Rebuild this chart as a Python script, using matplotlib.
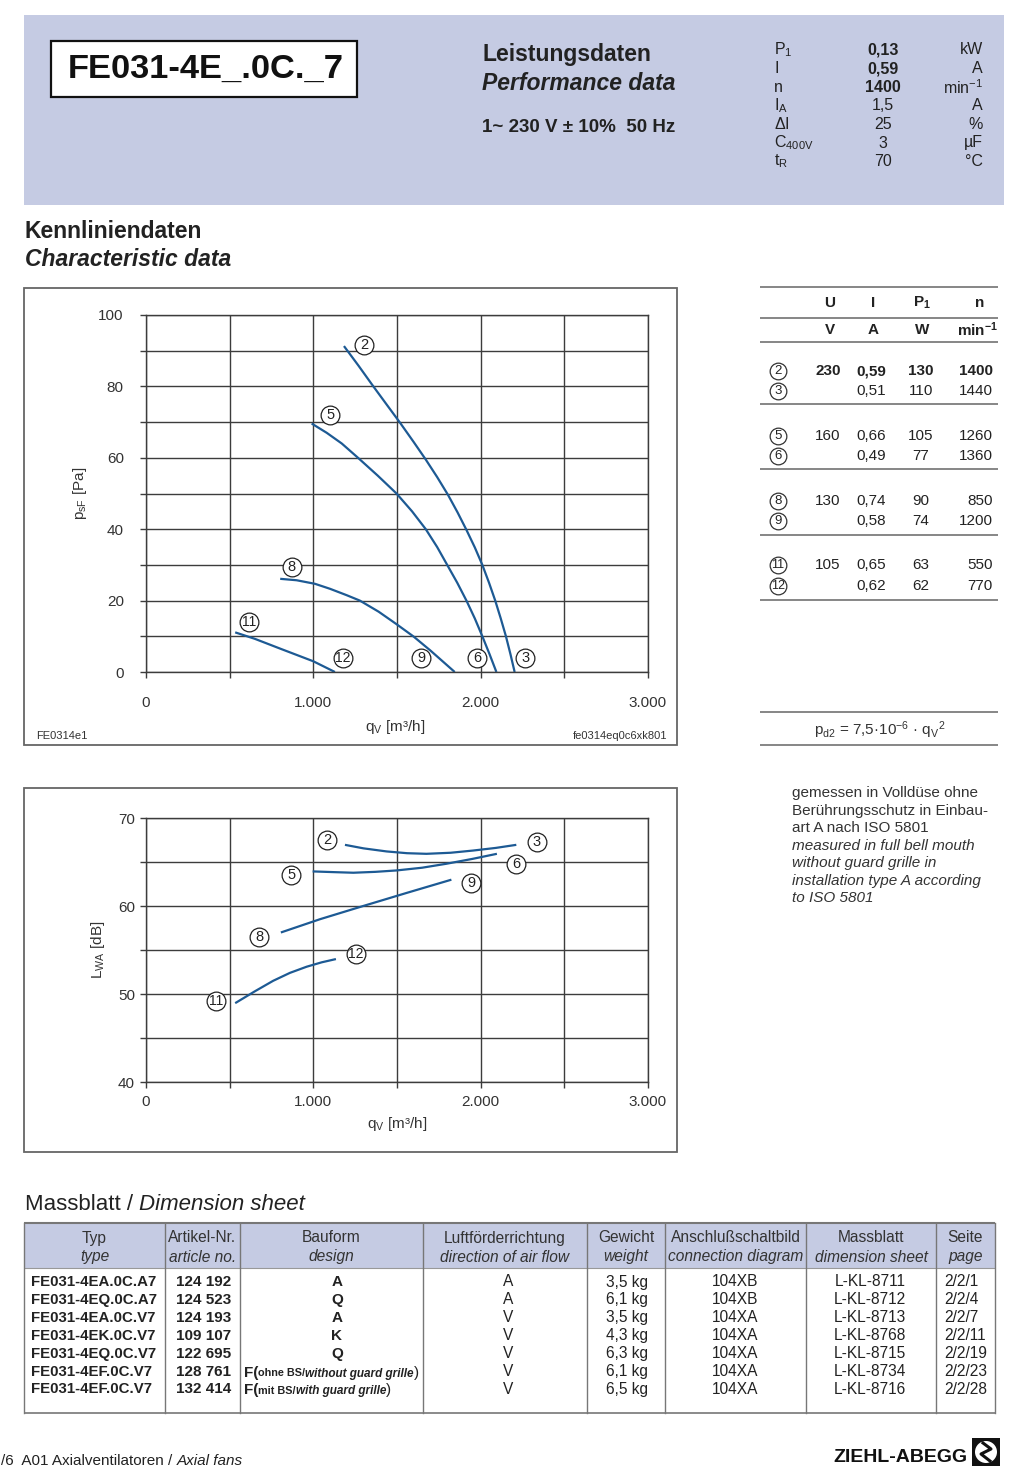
import matplotlib.pyplot as plt
from matplotlib.patches import Rectangle, Circle
from matplotlib import font_manager as fm
import numpy as np

names = {f.name for f in fm.fontManager.ttflist}
SANS = 'Liberation Sans'
NARROW = 'Liberation Sans Narrow' if 'Liberation Sans Narrow' in names else SANS
plt.rcParams['font.family'] = [SANS, 'DejaVu Sans']
plt.rcParams['mathtext.fontset'] = 'custom'
plt.rcParams['mathtext.rm'] = SANS
plt.rcParams['mathtext.it'] = SANS + ':italic'
plt.rcParams['mathtext.bf'] = SANS + ':bold'

# ---------------- data ----------------
model = 'FE031-4E_.0C._7'
perf_labels = [r'P$_\mathregular{1}$', 'I', 'n', r'I$_\mathregular{A}$', r'$\Delta$I',
               r'C$_\mathregular{400V}$', r't$_\mathregular{R}$']
perf_values = ['0,13', '0,59', '1400', '1,5', '25', '3', '70']
perf_bold = [True, True, True, False, False, False, False]
perf_units = ['kW', 'A', r'min$^\mathregular{-1}$', 'A', '%', 'µF', '°C']

op_ids = ['2', '3', '5', '6', '8', '9', '11', '12']
op_U = ['230', '', '160', '', '130', '', '105', '']
op_I = ['0,59', '0,51', '0,66', '0,49', '0,74', '0,58', '0,65', '0,62']
op_P = ['130', '110', '105', '77', '90', '74', '63', '62']
op_n = ['1400', '1440', '1260', '1360', '850', '1200', '550', '770']

# pressure curves psF [Pa] over qV [m3/h]
p23_q = [1183, 1270, 1354, 1440, 1517, 1600, 1672, 1740, 1805, 1862, 1915, 1965,
         2010, 2050, 2087, 2120, 2151, 2178, 2203]
p23_p = [91.3, 85.8, 80.3, 74.8, 69.9, 64.4, 59.5, 54.6, 49.6, 44.7, 39.8, 34.9,
         30, 25, 20, 15, 10, 5, 0]
p56_q = [990, 1080, 1170, 1267, 1385, 1497, 1590, 1672, 1740, 1800, 1860,
         1915, 1965, 2010, 2053, 2094]
p56_p = [69.6, 67.0, 64.0, 60, 55, 50, 45, 40, 35, 30, 25, 20, 15, 10, 5, 0]
p89_q = [802, 900, 1010, 1100, 1200, 1278, 1390, 1497, 1600, 1700, 1775, 1845]
p89_p = [26.1, 25.7, 24.7, 23.3, 21.5, 20.0, 16.9, 13.4, 9.9, 6.0, 2.9, 0]
p1112_q = [533, 650, 810, 1000, 1129]
p1112_p = [11.1, 9.3, 6.4, 3.0, 0]

# sound power LWA [dB] over qV [m3/h]
n23_q = [1189, 1300, 1438, 1560, 1676, 1820, 1954, 2090, 2213]
n23_l = [66.95, 66.55, 66.2, 66.0, 65.93, 66.05, 66.3, 66.6, 66.95]
n56_q = [996, 1120, 1239, 1370, 1497, 1650, 1795, 1950, 2097]
n56_l = [63.93, 63.85, 63.78, 63.88, 64.04, 64.35, 64.8, 65.35, 65.93]
n89_q = [806, 1040, 1298, 1560, 1825]
n89_l = [56.99, 58.5, 60.0, 61.5, 62.99]
n1112_q = [533, 650, 760, 860, 960, 1050, 1135]
n1112_l = [48.96, 50.3, 51.5, 52.4, 53.1, 53.6, 53.97]

# circled point labels (id, q, value)
p_marks = [('2', 1304, 91.6), ('5', 1100, 72.1), ('8', 872, 29.3), ('11', 616, 14.1),
           ('12', 1175, 3.8), ('9', 1645, 3.8), ('6', 1980, 3.8), ('3', 2266, 3.8)]
n_marks = [('2', 1084, 67.5), ('3', 2334, 67.3), ('6', 2213, 64.8), ('5', 867, 63.55),
           ('9', 1945, 62.65), ('8', 678, 56.5), ('12', 1254, 54.6), ('11', 418, 49.2)]

x_ticks = [0, 1000, 2000, 3000]
x_ticklabels = ['0', '1.000', '2.000', '3.000']

tab_types = ['FE031-4EA.0C.A7', 'FE031-4EQ.0C.A7', 'FE031-4EA.0C.V7', 'FE031-4EK.0C.V7',
             'FE031-4EQ.0C.V7', 'FE031-4EF.0C.V7', 'FE031-4EF.0C.V7']
tab_art = ['124 192', '124 523', '124 193', '109 107', '122 695', '128 761', '132 414']
tab_bau = ['A', 'Q', 'A', 'K', 'Q', 'F', 'F']
tab_bau_note = ['', '', '', '', '', ('ohne BS/', 'without guard grille'), ('mit BS/', 'with guard grille')]
tab_air = ['A', 'A', 'V', 'V', 'V', 'V', 'V']
tab_weight = ['3,5 kg', '6,1 kg', '3,5 kg', '4,3 kg', '6,3 kg', '6,1 kg', '6,5 kg']
tab_conn = ['104XB', '104XB', '104XA', '104XA', '104XA', '104XA', '104XA']
tab_sheet = ['L-KL-8711', 'L-KL-8712', 'L-KL-8713', 'L-KL-8768', 'L-KL-8715', 'L-KL-8734', 'L-KL-8716']
tab_page = ['2/2/1', '2/2/4', '2/2/7', '2/2/11', '2/2/19', '2/2/23', '2/2/28']
tab_head1 = ['Typ', 'Artikel-Nr.', 'Bauform', 'Luftförderrichtung', 'Gewicht',
             'Anschlußschaltbild', 'Massblatt', 'Seite']
tab_head2 = ['type', 'article no.', 'design', 'direction of air flow', 'weight',
             'connection diagram', 'dimension sheet', 'page']

note_lines = ['gemessen in Volldüse ohne', 'Berührungsschutz in Einbau-', 'art A nach ISO 5801',
              'measured in full bell mouth', 'without guard grille in',
              'installation type A according', 'to ISO 5801']

# ---------------- figure ----------------
W, H = 1024, 1479
BLUE = '#c5cbe3'
CURVE = '#1d5a94'
GRID = '#3c3c3c'
TXT = '#222222'

fig = plt.figure(figsize=(W / 100, H / 100), dpi=100)
bg = fig.add_axes([0, 0, 1, 1])
bg.set_xlim(0, W)
bg.set_ylim(H, 0)
bg.axis('off')


def t(x, y, s, **kw):
    kw.setdefault('va', 'center')
    kw.setdefault('color', TXT)
    return bg.text(x, y, s, **kw)


def chain(x, y, parts, **common):
    # texts placed one after another on a common baseline
    prev = None
    for s, kw in parts:
        k = dict(common)
        k.update(kw)
        k.setdefault('color', TXT)
        if prev is None:
            prev = bg.text(x, y, s, va='baseline', ha='left', **k)
        else:
            prev = bg.annotate(s, xy=(1, y), xycoords=(prev, 'data'),
                               va='baseline', ha='left', **k)
    return prev


def hline(x0, x1, y, c='#555555', lw=1.0):
    bg.plot([x0, x1], [y, y], color=c, lw=lw, solid_capstyle='butt')


# header block
bg.add_patch(Rectangle((24, 15), 980, 190, fc=BLUE, ec='none'))
bg.add_patch(Rectangle((51, 41), 306, 56, fc='white', ec='#111111', lw=1.6))
t(206, 69, model, ha='center', fontsize=24.8, weight='bold', family=NARROW, color='#111')
t(482, 54, 'Leistungsdaten', fontsize=16.5, weight='bold', family=NARROW)
t(482, 83, 'Performance data', fontsize=16.5, weight='bold', style='italic', family=NARROW)
t(482, 128, '1~ 230 V ± 10%  50 Hz', fontsize=13.5, weight='bold', family=NARROW)
for i in range(len(perf_labels)):
    y = 50 + i * 18.6
    t(774, y, perf_labels[i], fontsize=11.5, family=NARROW)
    t(883, y, perf_values[i], ha='center', fontsize=11.5, family=NARROW,
      weight='bold' if perf_bold[i] else 'normal')
    t(983, y, perf_units[i], ha='right', fontsize=11.5, family=NARROW)

t(25, 231, 'Kennliniendaten', fontsize=16.5, weight='bold')
t(25, 260, 'Characteristic data', fontsize=16.5, weight='bold', style='italic')

# chart frames
bg.add_patch(Rectangle((24, 288), 653, 457, fc='none', ec='#666666', lw=1.3))
bg.add_patch(Rectangle((24, 788), 653, 364, fc='none', ec='#666666', lw=1.3))


def make_chart(l, top, r, b, ylim, yticks, yminor, ypad, xpad):
    ax = fig.add_axes([l / W, 1 - b / H, (r - l) / W, (b - top) / H])
    ax.set_facecolor('none')
    ax.set_xlim(0, 3000)
    ax.set_ylim(*ylim)
    ax.set_xticks(x_ticks)
    ax.set_xticklabels(x_ticklabels)
    ax.set_xticks([500, 1500, 2500], minor=True)
    ax.set_yticks(yticks)
    ax.set_yticks(yminor, minor=True)
    ax.set_axisbelow(True)
    ax.grid(True, which='both', color=GRID, lw=1.0)
    for s in ax.spines.values():
        s.set_color(GRID)
        s.set_linewidth(1.0)
    ax.tick_params(which='both', direction='out', length=4, width=1.0, color=GRID,
                   labelsize=11, labelcolor='#333333')
    ax.tick_params(axis='y', pad=ypad)
    ax.tick_params(axis='x', pad=xpad)
    return ax


def badge(ax, x, y, s, ms=13.5, fs=10.5):
    ax.plot(x, y, 'o', ms=ms, mfc='white', mec='#222222', mew=0.9, zorder=5, clip_on=False)
    ax.text(x, y, s, ha='center', va='center', fontsize=fs if len(s) == 1 else fs - 0.5,
            family=NARROW, color='#222222', zorder=6)


# pressure chart
ax1 = make_chart(146, 315, 648, 672, (0, 100), np.arange(0, 101, 20),
                 np.arange(10, 100, 20), 12, 13.5)
for q, p in [(p23_q, p23_p), (p56_q, p56_p), (p89_q, p89_p), (p1112_q, p1112_p)]:
    ax1.plot(q, p, color=CURVE, lw=1.6, solid_capstyle='butt', solid_joinstyle='round')
for s, q, p in p_marks:
    badge(ax1, q, p, s)
t(80, 493, r'p$_\mathregular{sF}$ [Pa]', rotation=90, ha='center', fontsize=11, color='#333')
t(395, 727, r'q$_\mathregular{V}$ [m³/h]', ha='center', fontsize=11, color='#333')
t(36, 736, 'FE0314e1', fontsize=8, color='#333')
t(667, 736, 'fe0314eq0c6xk801', ha='right', fontsize=8, color='#333')

# sound chart
ax2 = make_chart(146, 818, 648, 1082, (40, 70), [40, 50, 60, 70],
                 [45, 55, 65], 4, 5.5)
for q, l in [(n23_q, n23_l), (n56_q, n56_l), (n89_q, n89_l), (n1112_q, n1112_l)]:
    ax2.plot(q, l, color=CURVE, lw=1.6, solid_capstyle='butt', solid_joinstyle='round')
for s, q, l in n_marks:
    badge(ax2, q, l, s)
t(98, 950, r'L$_\mathregular{WA}$ [dB]', rotation=90, ha='center', fontsize=11, color='#333')
t(397, 1124, r'q$_\mathregular{V}$ [m³/h]', ha='center', fontsize=11, color='#333')

# operating point table
for y in [287, 318, 342, 404, 469, 535, 600]:
    hline(760, 998, y, c='#666666', lw=1.1)
t(830, 303, 'U', ha='center', fontsize=11, weight='bold')
t(873, 303, 'I', ha='center', fontsize=11, weight='bold')
t(922, 303, r'P$_\mathregular{1}$', ha='center', fontsize=11, weight='bold')
t(980, 303, 'n', ha='center', fontsize=11, weight='bold')
t(830, 330, 'V', ha='center', fontsize=11, weight='bold')
t(873, 330, 'A', ha='center', fontsize=11, weight='bold')
t(922, 330, 'W', ha='center', fontsize=11, weight='bold')
t(998, 330, r'min$^\mathregular{-1}$', ha='right', fontsize=11, weight='bold')
row_y = [371, 391, 436, 456, 501, 521, 565, 586]
for i, y in enumerate(row_y):
    bg.plot(778, y, 'o', ms=12, mfc='white', mec='#333333', mew=0.9)
    t(778, y, op_ids[i], ha='center', fontsize=9.5 if len(op_ids[i]) == 1 else 9,
      family=NARROW)
    w = 'bold' if i == 0 else 'normal'
    t(828, y, op_U[i], ha='center', fontsize=11, weight=w)
    t(871, y, op_I[i], ha='center', fontsize=11, weight=w)
    t(921, y, op_P[i], ha='center', fontsize=11, weight=w)
    t(993, y, op_n[i], ha='right', fontsize=11, weight=w)

hline(760, 998, 712, c='#666666', lw=1.1)
hline(760, 998, 745, c='#666666', lw=1.1)
t(880, 730, r'p$_\mathregular{d2}$ = 7,5·10$^\mathregular{-6}$ · q$_\mathregular{V}$$^\mathregular{2}$',
  ha='center', fontsize=11, color='#333')

for i, line in enumerate(note_lines):
    t(792, 793 + i * 17.5, line, fontsize=11, color='#333',
      style='italic' if i >= 3 else 'normal')

# dimension sheet table
chain(25, 1210, [('Massblatt / ', {}), ('Dimension sheet', {'style': 'italic'})],
      fontsize=16)

bg.add_patch(Rectangle((24, 1223), 971, 45, fc=BLUE, ec='none'))
hline(24, 995, 1223, c='#777777', lw=1.5)
hline(24, 995, 1268, c='#999999', lw=0.8)
hline(24, 995, 1413, c='#777777', lw=1.2)
col_x = [24, 165, 240, 423, 587, 665, 806, 936, 995]
for x in col_x:
    bg.plot([x, x], [1223, 1413], color='#777777', lw=1.0)
for j in range(8):
    cx = (col_x[j] + col_x[j + 1]) / 2
    t(cx, 1238, tab_head1[j], ha='center', fontsize=11.2, family=NARROW, color='#333')
    t(cx, 1257, tab_head2[j], ha='center', fontsize=11.2, family=NARROW, style='italic',
      color='#333')

for i in range(len(tab_types)):
    y = 1282 + i * 17.9
    t(31, y, tab_types[i], fontsize=10.8, family=NARROW, weight='bold')
    t(176, y, tab_art[i], fontsize=11, family=NARROW, weight='bold')
    if tab_bau_note[i]:
        de, en = tab_bau_note[i]
        chain(244, y + 5, [('F(', {'fontsize': 11, 'weight': 'bold'}),
                           (de, {'fontsize': 7.8, 'weight': 'bold'}),
                           (en, {'fontsize': 8.5, 'weight': 'bold', 'style': 'italic'}),
                           (')', {'fontsize': 11})])
    else:
        t(337, y, tab_bau[i], ha='center', fontsize=11, family=NARROW, weight='bold')
    t(508, y, tab_air[i], ha='center', fontsize=11.2, family=NARROW)
    t(627, y, tab_weight[i], ha='center', fontsize=11.2, family=NARROW)
    t(735, y, tab_conn[i], ha='center', fontsize=11.2, family=NARROW)
    t(870, y, tab_sheet[i], ha='center', fontsize=11.2, family=NARROW)
    t(944, y, tab_page[i], fontsize=11.2, family=NARROW)

# footer
chain(1, 1465, [('/6  A01 Axialventilatoren / ', {}), ('Axial fans', {'style': 'italic'})],
      fontsize=11)
t(967, 1458, 'ZIEHL-ABEGG', ha='right', fontsize=14, weight='bold', family=NARROW, color='#111')
bg.add_patch(Rectangle((972, 1438), 28, 28, fc='#111111', ec='none'))
bg.add_patch(Circle((986, 1452), 11, fc='white', ec='none'))
bg.plot([983, 991, 981, 990], [1443, 1449, 1454, 1461], color='#111111', lw=2.2)

fig.savefig('out.png', dpi=100)
